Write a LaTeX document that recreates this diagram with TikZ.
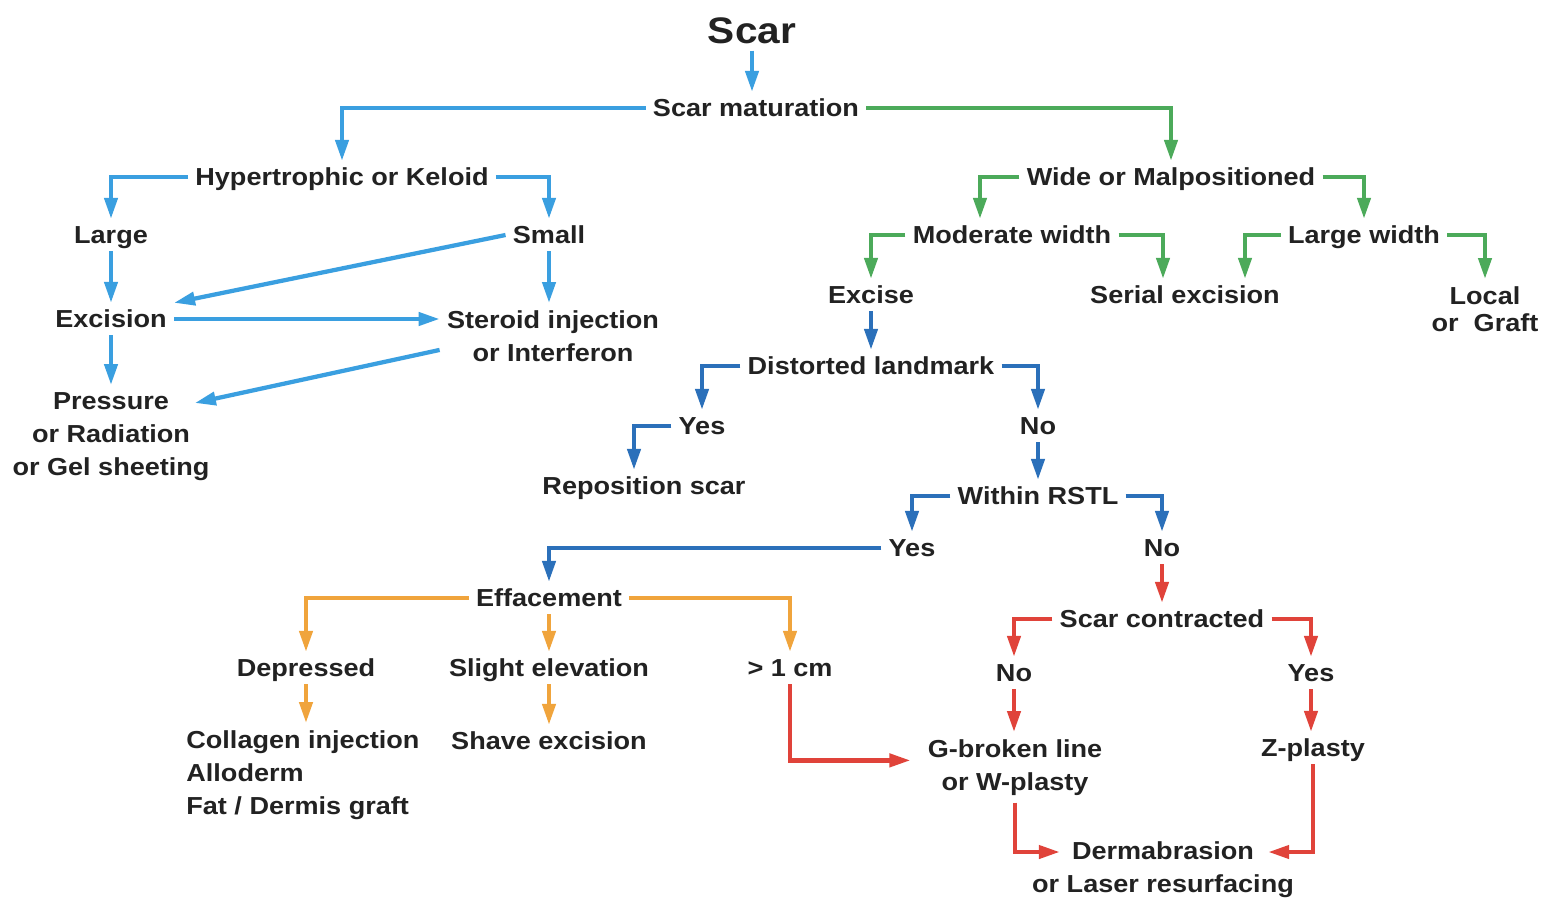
\documentclass[tikz,border=0pt]{standalone}
\usepackage{fontspec}
\setmainfont{Liberation Sans}[FakeStretch=1.1]
\usetikzlibrary{arrows.meta}
\definecolor{skyblue}{HTML}{3A9FE0}
\definecolor{navyblue}{HTML}{2B70BA}
\definecolor{leafgreen}{HTML}{4CAA5A}
\definecolor{amber}{HTML}{F0A43C}
\definecolor{brickred}{HTML}{E0433A}
\definecolor{ink}{HTML}{222222}
\tikzset{
    lbl/.style={text=ink, font=\bfseries\fontsize{14}{18.8}\selectfont, inner xsep=4pt, inner ysep=4pt},
    single/.style={lbl, text height=10pt, text depth=0pt},
    multi/.style={lbl, align=center, anchor=north},
    link/.style={line width=0.85mm, -{Triangle[length=4.2mm,width=2.6mm]}},
    skyline/.style={link, skyblue},
    navyline/.style={link, navyblue},
    leafline/.style={link, leafgreen},
    amberline/.style={link, amber},
    redline/.style={link, brickred}
}

\begin{document}
\begin{tikzpicture}[x=0.2mm, y=-0.2mm]
    \fill[white] (0,0) rectangle (1543,897);
    \useasboundingbox (0,0) rectangle (1543,897);

    \node[lbl, text height=15pt, text depth=0pt, font=\bfseries\fontsize{21}{25}\selectfont] (scar) at (752,30) {Scar};
    \node[single] (mat)    at (756,108)  {Scar maturation};
    \node[single] (hyp)    at (342,177)  {Hypertrophic or Keloid};
    \node[single] (wide)   at (1171,177) {Wide or Malpositioned};
    \node[single] (large)  at (111,235)  {Large};
    \node[single] (small)  at (549,235)  {Small};
    \node[single] (modw)   at (1012,235) {Moderate width};
    \node[single] (largew) at (1364,235) {Large width};
    \node[single] (exc)    at (111,319)  {Excision};
    \node[multi]  (ster)   at (553,303)  {Steroid injection\\or Interferon};
    \node[single] (excise) at (871,295)  {Excise};
    \node[single] (serial) at (1185,295) {Serial excision};
    \node[multi, font=\bfseries\fontsize{14}{15.4}\selectfont] (local) at (1485,279) {Local\\or~ Graft};
    \node[single] (dist)   at (871,366)  {Distorted landmark};
    \node[multi]  (press)  at (111,385)  {Pressure\\or Radiation\\or Gel sheeting};
    \node[single] (yesA)   at (702,426)  {Yes};
    \node[single] (noA)    at (1038,426) {No};
    \node[single] (repo)   at (644,486)  {Reposition scar};
    \node[single] (rstl)   at (1038,496) {Within RSTL};
    \node[single] (yesB)   at (912,548)  {Yes};
    \node[single] (noB)    at (1162,548) {No};
    \node[single] (eff)    at (549,598)  {Effacement};
    \node[single] (contr)  at (1162,619) {Scar contracted};
    \node[single] (depr)   at (306,668)  {Depressed};
    \node[single] (slight) at (549,668)  {Slight elevation};
    \node[single] (gtcm)   at (790,668)  {> 1 cm};
    \node[single] (noC)    at (1014,673) {No};
    \node[single] (yesC)   at (1311,673) {Yes};
    \node[lbl, align=left, anchor=north west] (coll) at (179,723) {Collagen injection\\Alloderm\\Fat / Dermis graft};
    \node[single] (shave)  at (549,741)  {Shave excision};
    \node[multi]  (gbl)    at (1015,732) {G-broken line\\or W-plasty};
    \node[single] (zpl)    at (1313,748) {Z-plasty};
    \node[multi]  (derm)   at (1163,834) {Dermabrasion\\or Laser resurfacing};

    % hypertrophic branch
    \draw[skyline] (scar.south) -- (scar.south |- mat.north);
    \draw[skyline] (mat.west) -| (hyp.north);
    \draw[skyline] (hyp.west) -| (large.north);
    \draw[skyline] (hyp.east) -| (small.north);
    \draw[skyline] (large) -- (exc);
    \draw[skyline] (small.south) -- (small.south |- ster.north);
    \draw[skyline] (small.west) -- (exc.north east);
    \draw[skyline] (exc.east) -- (exc.east -| ster.west);
    \draw[skyline] (exc) -- (press);
    \draw[skyline] ([yshift=-2.8mm]ster.west) -- ([xshift=-4.4mm,yshift=-3.6mm]press.north east);

    % wide branch
    \draw[leafline] (mat.east) -| (wide.north);
    \draw[leafline] (wide.west) -| ([xshift=-6.4mm]modw.north);
    \draw[leafline] (wide.east) -| (largew.north);
    \draw[leafline] (modw.west) -| (excise.north);
    \draw[leafline] (modw.east) -| ([xshift=-4.4mm]serial.north);
    \draw[leafline] (largew.west) -| ([xshift=12mm]serial.north);
    \draw[leafline] (largew.east) -| (local.north);

    \draw[navyline] (excise) -- (dist);
    \draw[navyline] (dist.west) -| (yesA.north);
    \draw[navyline] (dist.east) -| (noA.north);
    \draw[navyline] (yesA.west) -| ([xshift=-2mm]repo.north);
    \draw[navyline] (noA) -- (rstl);
    \draw[navyline] (rstl.west) -| (yesB.north);
    \draw[navyline] (rstl.east) -| (noB.north);
    \draw[navyline] (yesB.west) -| (eff.north);

    \draw[redline] (noB) -- (contr);
    \draw[redline] (contr.west) -| (noC.north);
    \draw[redline] (contr.east) -| (yesC.north);
    \draw[redline] (noC.south) -- (noC.south |- gbl.north);
    \draw[redline] (yesC.south) -- (yesC.south |- zpl.north);
    \draw[redline] (gtcm.south) |- ([xshift=-2mm,yshift=1.4mm]gbl.west);
    \draw[redline] (gbl.south) |- ([xshift=7mm,yshift=-3.6mm]derm.north west);
    \draw[redline] (zpl.south) |- ([xshift=-6.6mm,yshift=-3.6mm]derm.north east);

    % effacement
    \draw[amberline] (eff.west) -| (depr.north);
    \draw[amberline] (eff) -- (slight);
    \draw[amberline] (eff.east) -| (gtcm.north);
    \draw[amberline] (depr.south) -- (depr.south |- coll.north);
    \draw[amberline] (slight) -- (shave);
\end{tikzpicture}
\end{document}
